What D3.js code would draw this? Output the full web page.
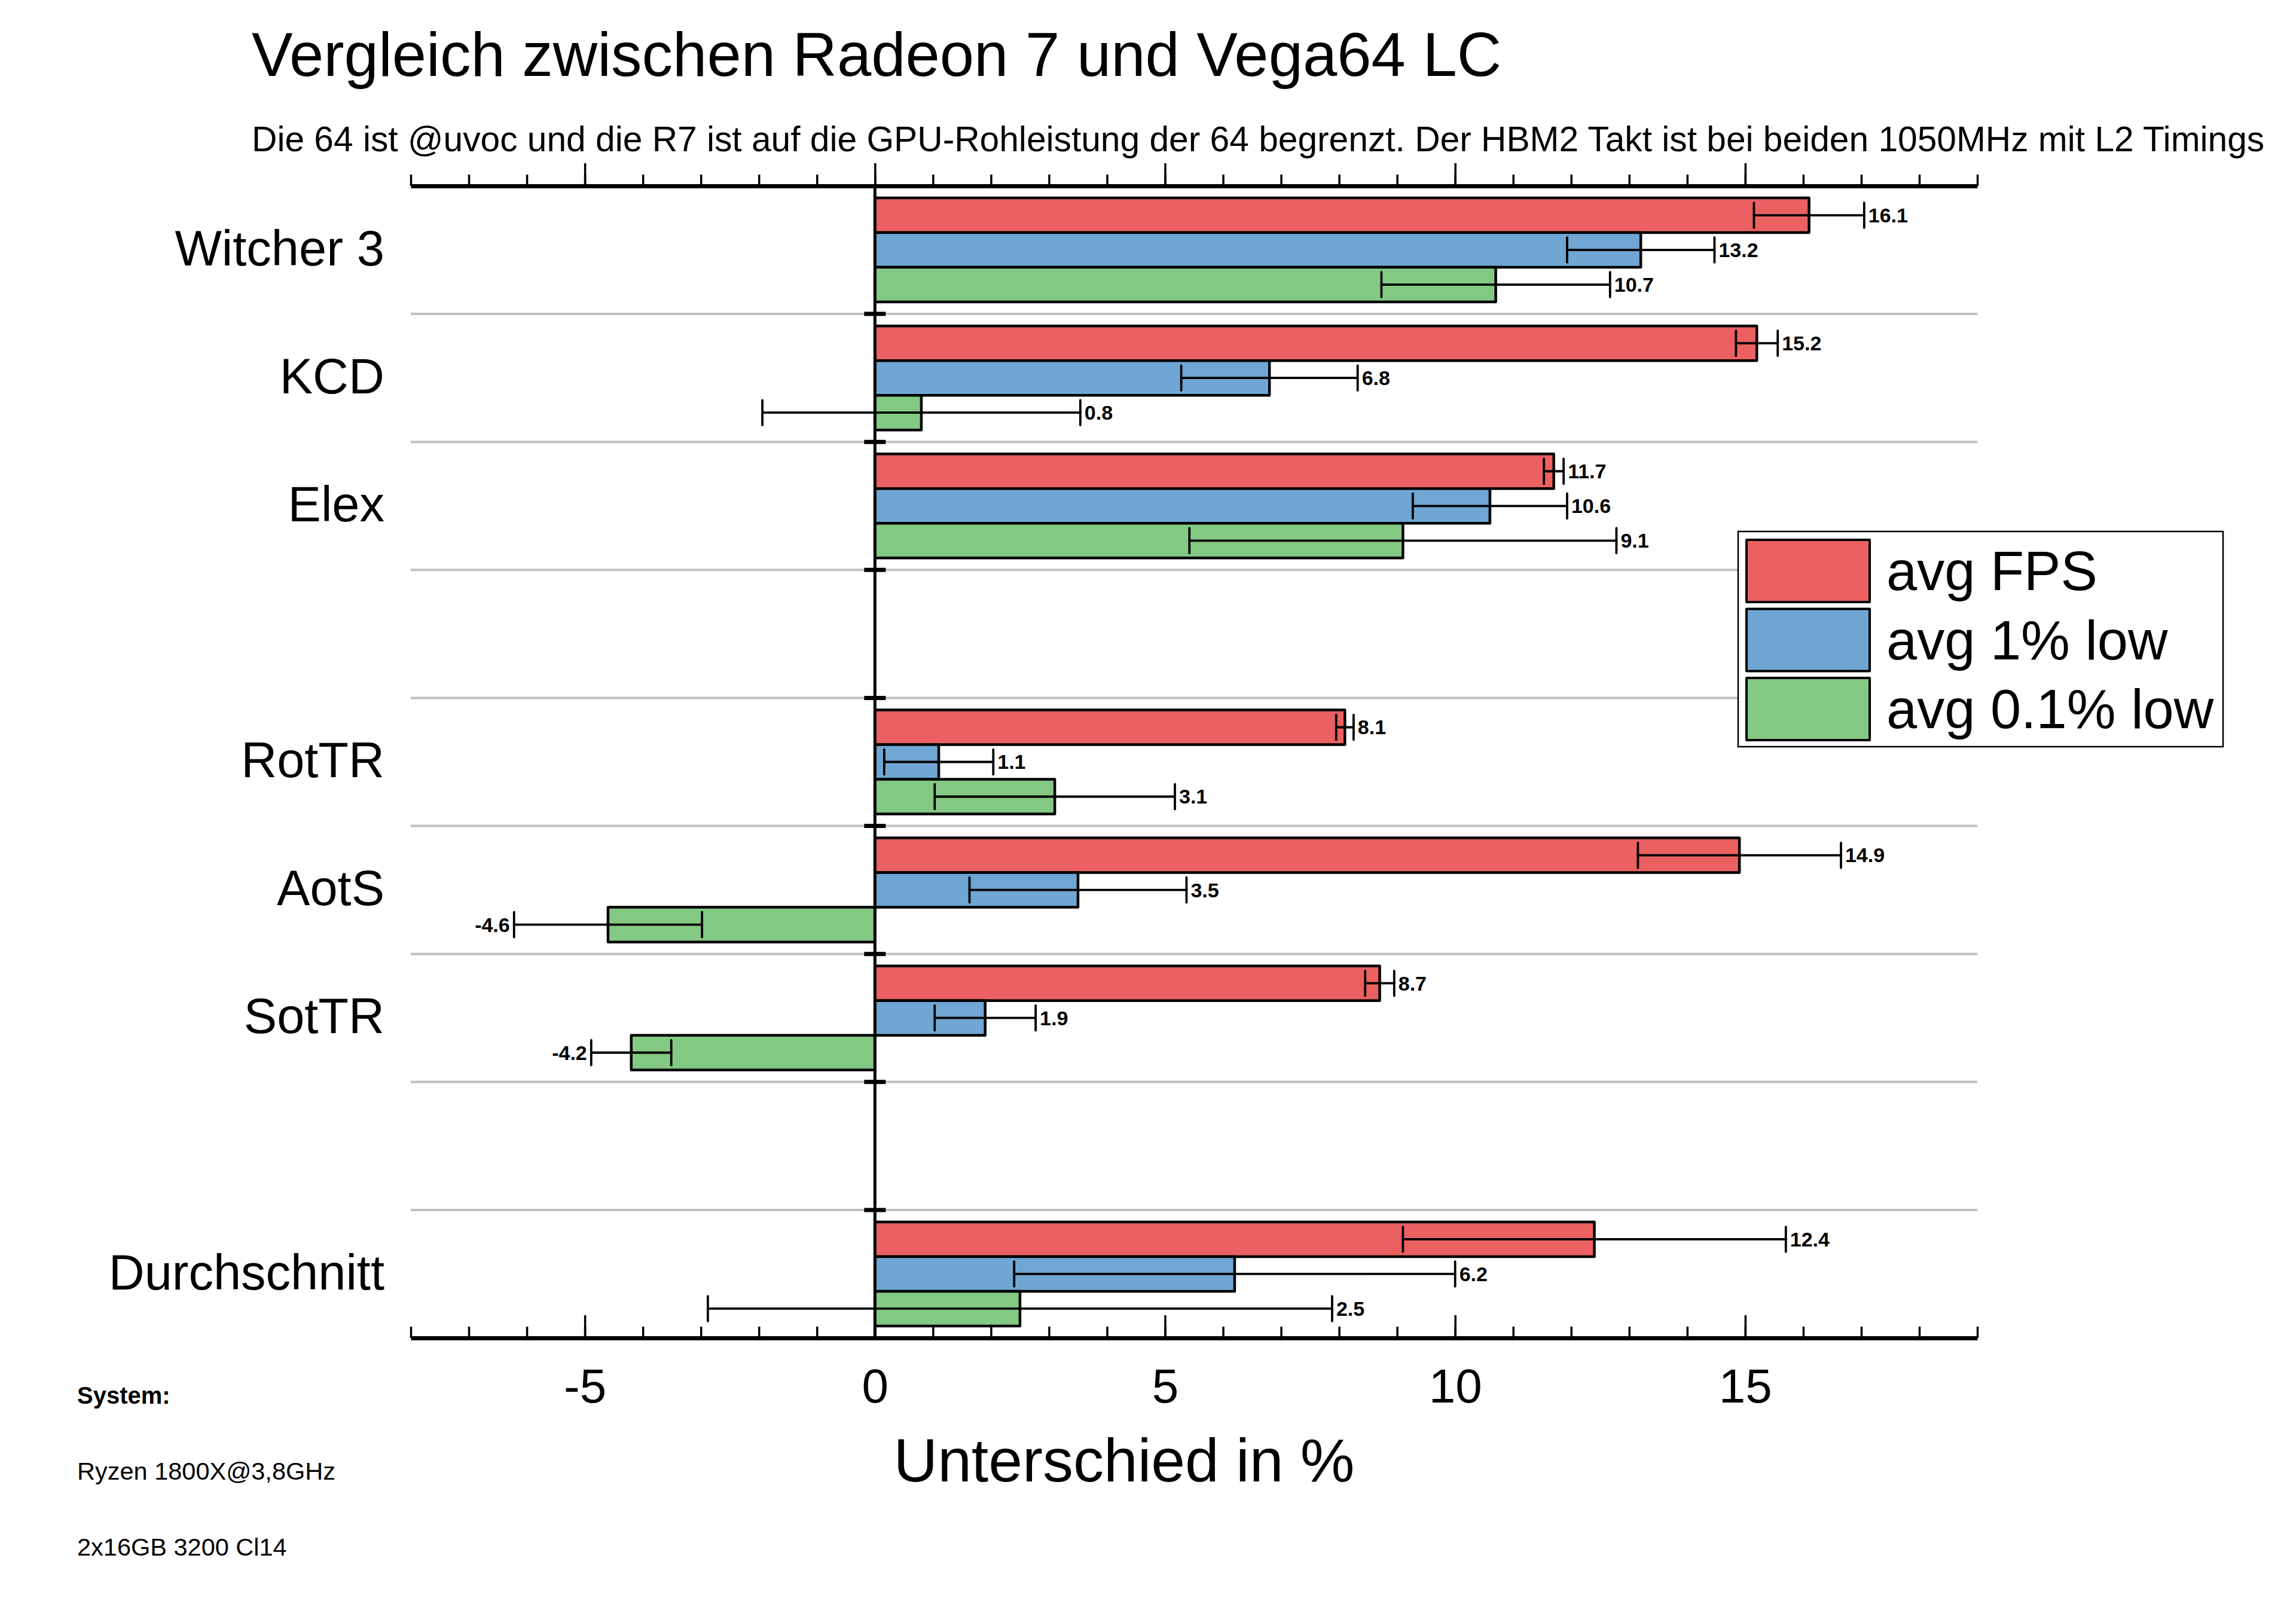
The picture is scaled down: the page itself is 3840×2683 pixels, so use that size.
<!DOCTYPE html>
<html>
<head>
<meta charset="utf-8">
<script src="https://cdn.jsdelivr.net/npm/d3@7/dist/d3.min.js"></script>
<style>
  html, body { margin: 0; padding: 0; background: #ffffff; }
  svg { display: block; }
  text { font-family: "Liberation Sans", Arial, Helvetica, sans-serif; fill: #000; }
</style>
</head>
<body>
<svg id="chart" width="3840" height="2683"></svg>
<script>
// ---------------- data ----------------
const titleText = "Vergleich zwischen Radeon 7 und Vega64 LC";
const subtitleText = "Die 64 ist @uvoc und die R7 ist auf die GPU-Rohleistung der 64 begrenzt. Der HBM2 Takt ist bei beiden 1050MHz mit L2 Timings";
const xAxisTitle = "Unterschied in %";
const systemLines = ["System:", "Ryzen 1800X@3,8GHz", "2x16GB 3200 Cl14"];

// row order of the chart (blank strings are empty rows)
const slots = ["Witcher 3", "KCD", "Elex", "", "RotTR", "AotS", "SotTR", " ", "Durchschnitt"];
const games = ["Witcher 3", "KCD", "Elex", "RotTR", "AotS", "SotTR", "Durchschnitt"];

const seriesNames = ["avg FPS", "avg 1% low", "avg 0.1% low"];
const seriesColors = ["#EB6060", "#6FA6D4", "#83C983"];

const avgFps      = [16.1, 15.2, 11.7, 8.1, 14.9, 8.7, 12.4];
const avgFpsErr   = [0.95, 0.36, 0.17, 0.15, 1.75, 0.25, 3.30];
const low1        = [13.2, 6.8, 10.6, 1.1, 3.5, 1.9, 6.2];
const low1Err     = [1.27, 1.52, 1.33, 0.94, 1.87, 0.87, 3.80];
const low01       = [10.7, 0.8, 9.1, 3.1, -4.6, -4.2, 2.5];
const low01Err    = [1.97, 2.74, 3.68, 2.07, 1.62, 0.69, 5.38];

const xDomain = [-8, 19];
const majorTicks = [-5, 0, 5, 10, 15];
const minorTicks = d3.range(-8, 20, 1);

// ---------------- build ----------------
const values = [avgFps, low1, low01];
const errors = [avgFpsErr, low1Err, low01Err];
const records = [];
games.forEach((g, gi) => {
  seriesNames.forEach((s, si) => {
    records.push({ game: g, series: s, si: si, value: values[si][gi], err: errors[si][gi] });
  });
});

const svg = d3.select("#chart");
const plotTop = 311, plotBottom = 2238;

const x = d3.scaleLinear().domain(xDomain).range([687, 3307]);
const y = d3.scaleBand().domain(slots).range([plotTop, plotBottom]).paddingInner(0).paddingOuter(0);
const ySub = d3.scaleBand().domain(seriesNames).range([0, y.bandwidth()]).paddingInner(0).paddingOuter(0.345);
const color = d3.scaleOrdinal().domain(seriesNames).range(seriesColors);

// gray separators between rows
const boundaries = d3.range(1, slots.length).map(i => plotTop + i * y.step());
svg.append("g").selectAll("line").data(boundaries).join("line")
  .attr("x1", x(xDomain[0])).attr("x2", x(xDomain[1]))
  .attr("y1", d => d).attr("y2", d => d)
  .attr("stroke", "#C0C0C0").attr("stroke-width", 4);

// bars
svg.append("g").selectAll("rect").data(records).join("rect")
  .attr("x", d => x(Math.min(0, d.value)))
  .attr("width", d => Math.abs(x(d.value) - x(0)))
  .attr("y", d => y(d.game) + ySub(d.series))
  .attr("height", ySub.bandwidth())
  .attr("fill", d => color(d.series))
  .attr("stroke", "#000").attr("stroke-width", 4.5).attr("stroke-linejoin", "round");

// error bars
const capH = ySub.bandwidth() * 0.72;
const eg = svg.append("g").attr("stroke", "#000").attr("stroke-linecap", "round");
records.forEach(d => {
  const cy = y(d.game) + ySub(d.series) + ySub.bandwidth() / 2;
  const lo = x(d.value - d.err), hi = x(d.value + d.err);
  eg.append("line").attr("x1", lo).attr("x2", hi).attr("y1", cy).attr("y2", cy).attr("stroke-width", 3.8);
  eg.append("line").attr("x1", lo).attr("x2", lo).attr("y1", cy - capH / 2).attr("y2", cy + capH / 2).attr("stroke-width", 3.8);
  eg.append("line").attr("x1", hi).attr("x2", hi).attr("y1", cy - capH / 2).attr("y2", cy + capH / 2).attr("stroke-width", 3.8);
});

// value labels
svg.append("g").selectAll("text").data(records).join("text")
  .attr("x", d => d.value >= 0 ? x(d.value + d.err) + 7 : x(d.value - d.err) - 7)
  .attr("y", d => y(d.game) + ySub(d.series) + ySub.bandwidth() / 2)
  .attr("dy", "0.35em")
  .attr("text-anchor", d => d.value >= 0 ? "start" : "end")
  .style("font-size", "34px").style("font-weight", "bold")
  .text(d => d.value.toFixed(1));

// zero line and its small ticks
svg.append("line").attr("x1", x(0)).attr("x2", x(0)).attr("y1", plotTop).attr("y2", plotBottom)
  .attr("stroke", "#000").attr("stroke-width", 5);
svg.append("g").selectAll("line").data(boundaries).join("line")
  .attr("x1", x(0) - 18).attr("x2", x(0) + 18)
  .attr("y1", d => d).attr("y2", d => d)
  .attr("stroke", "#000").attr("stroke-width", 7);

// axes
function styleAxis(g) {
  g.select(".domain").attr("stroke", "#000").attr("stroke-width", 7);
  g.selectAll(".tick line").attr("stroke", "#000").attr("stroke-width", 3.5);
}
// top axis (ticks outward/up)
svg.append("g").attr("transform", `translate(0,${plotTop})`)
  .call(d3.axisTop(x).tickValues(minorTicks).tickSize(19).tickSizeOuter(0).tickFormat(""))
  .call(styleAxis);
svg.append("g").attr("transform", `translate(0,${plotTop})`)
  .call(d3.axisTop(x).tickValues(majorTicks).tickSize(38).tickSizeOuter(0).tickFormat(""))
  .call(g => g.select(".domain").remove())
  .call(styleAxis);
// bottom axis (ticks inward/up)
svg.append("g").attr("transform", `translate(0,${plotBottom})`)
  .call(d3.axisBottom(x).tickValues(minorTicks).tickSizeInner(-19).tickSizeOuter(0).tickFormat(""))
  .call(styleAxis);
const bottomMajor = svg.append("g").attr("transform", `translate(0,${plotBottom})`)
  .call(d3.axisBottom(x).tickValues(majorTicks).tickSizeInner(-38).tickSizeOuter(0).tickPadding(51).tickFormat(d => String(d)))
  .call(g => g.select(".domain").remove())
  .call(styleAxis);
bottomMajor.selectAll(".tick text")
  .style("font-family", "\"Liberation Sans\", Arial, sans-serif")
  .style("font-size", "80px").attr("fill", "#000");

// category labels
svg.append("g").selectAll("text").data(games).join("text")
  .attr("x", 643)
  .attr("y", d => y(d) + y.bandwidth() / 2)
  .attr("dy", "0.31em")
  .attr("text-anchor", "end")
  .style("font-size", "83px")
  .text(d => d);

// titles
svg.append("text").attr("x", 421).attr("y", 127).style("font-size", "103px").text(titleText);
svg.append("text").attr("x", 421).attr("y", 253).style("font-size", "58.7px").text(subtitleText);
svg.append("text").attr("x", 1880).attr("y", 2478).attr("text-anchor", "middle")
  .style("font-size", "102px").text(xAxisTitle);

// system info
svg.append("g").selectAll("text").data(systemLines).join("text")
  .attr("x", 129)
  .attr("y", (d, i) => 2348 + i * 127)
  .style("font-size", (d, i) => i === 0 ? "40px" : "41.5px")
  .style("font-weight", (d, i) => i === 0 ? "bold" : "normal")
  .text(d => d);

// legend
const lg = svg.append("g");
lg.append("rect").attr("x", 2907).attr("y", 889).attr("width", 811).attr("height", 360)
  .attr("fill", "#fff").attr("stroke", "#000").attr("stroke-width", 2.5);
const li = lg.selectAll("g.item").data(seriesNames).join("g").attr("class", "item")
  .attr("transform", (d, i) => `translate(2921,${903 + i * 115.5})`);
li.append("rect").attr("width", 206).attr("height", 104)
  .attr("fill", d => color(d)).attr("stroke", "#000").attr("stroke-width", 4).attr("stroke-linejoin", "round");
li.append("text").attr("x", 234).attr("y", 52).attr("dy", "0.35em")
  .style("font-size", "92px").text(d => d);
</script>
</body>
</html>
